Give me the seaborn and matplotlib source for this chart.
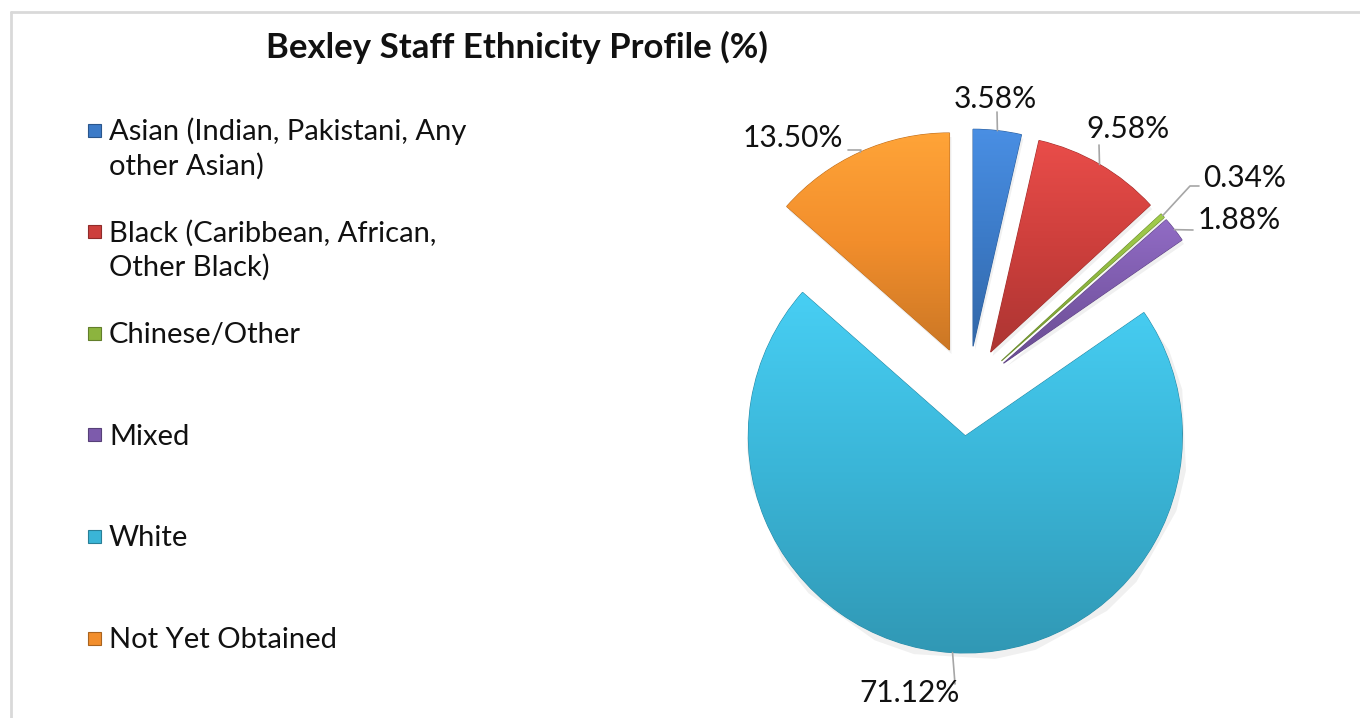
import numpy as np
import matplotlib.pyplot as plt
import matplotlib.colors as mcolors
from matplotlib.patches import Rectangle
import seaborn as sns

# data
groups = ["Asian (Indian, Pakistani, Any\nother Asian)",
          "Black (Caribbean, African,\nOther Black)",
          "Chinese/Other",
          "Mixed",
          "White",
          "Not Yet Obtained"]
shares = [3.58, 9.58, 0.34, 1.88, 71.12, 13.50]
colours = ["#3C7BC8", "#CD3F3C", "#8CB43E", "#7D5BAC", "#3AB5D7", "#F28E2C"]

title = "Bexley Staff Ethnicity Profile (%)"

W, H = 1360, 718

sns.set_theme(style="white")
plt.rcParams["font.family"] = ["Lato", "DejaVu Sans"]

fig = plt.figure(figsize=(13.6, 7.18), dpi=100)
ax = fig.add_axes([0, 0, 1, 1])


def py(y):
    # pixel row (from top) -> axis y
    return H - y


centre = (968, py(391))
radius = 217
pull = 45

wedges, _ = ax.pie(shares, colors=colours, startangle=90, counterclock=False,
                   radius=radius, center=centre, explode=[pull] * len(shares),
                   wedgeprops=dict(linewidth=0.8))

# soft vertical shading on every slice
for w, c in zip(wedges, colours):
    rgb = np.array(mcolors.to_rgb(c))
    light = np.clip(rgb * 1.1 + 0.03, 0, 1)
    dark = rgb * 0.84
    w.set_edgecolor(tuple(rgb * 0.78))
    ext = w.get_path().get_extents()
    cmap = mcolors.LinearSegmentedColormap.from_list("", [light, rgb, dark])
    grad = np.linspace(0, 1, 256).reshape(-1, 1)
    im = ax.imshow(grad, cmap=cmap, extent=[ext.x0, ext.x1, ext.y0, ext.y1],
                   origin="upper", aspect="auto", zorder=w.get_zorder() + 0.1)
    im.set_clip_path(w)
    # shadow
    sh = plt.Polygon(w.get_path().vertices + np.array([2, -4]), closed=True,
                     facecolor="#000000", alpha=0.06, edgecolor="none",
                     zorder=w.get_zorder() - 0.5)
    ax.add_patch(sh)

# data labels with leader lines: (text x, text y, ha, elbow points)
label_layout = [
    (995, 99, "center", [(997, 112)]),
    (1128, 129, "center", [(1099, 145)]),
    (1203, 178, "left", [(1190, 186), (1199, 186)]),
    (1198, 220, "left", [(1193, 230)]),
    (910, 693, "center", [(955, 684)]),
    (843, 138, "right", [(861, 150), (848, 150)]),
]

for w, v, (tx, ty, ha, pts) in zip(wedges, shares, label_layout):
    mid = np.deg2rad((w.theta1 + w.theta2) / 2)
    ox = w.center[0] + radius * np.cos(mid)
    oy = w.center[1] + radius * np.sin(mid)
    xs = [ox] + [p[0] for p in pts]
    ys = [oy] + [py(p[1]) for p in pts]
    ax.plot(xs, ys, color="#A6A6A6", lw=1.2, zorder=5)
    ax.text(tx, py(ty), f"{v:.2f}%", ha=ha, va="center", fontsize=21.5,
            color="#111111", zorder=6)

# legend on the left, marker level with the first line of each entry
for i, (name, c) in enumerate(zip(groups, colours)):
    yc = 130 + 101.6 * i
    rgb = np.array(mcolors.to_rgb(c))
    ax.add_patch(Rectangle((88, py(yc) - 6.5), 13, 13, facecolor=c,
                           edgecolor=tuple(rgb * 0.7), lw=0.8))
    for j, line in enumerate(name.split("\n")):
        ax.text(109, py(yc + 10 + 34.5 * j), line, ha="left", va="baseline",
                fontsize=21, color="#111111")

ax.text(517, py(47), title, ha="center", va="center", fontsize=25,
        fontweight="bold", color="#111111")

# chart frame
ax.plot([10.5, 10.5], [-2, py(11.5)], color="#D9D9D9", lw=2)
ax.plot([10.5, W + 2], [py(11.5), py(11.5)], color="#D9D9D9", lw=2)

ax.set_xlim(0, W)
ax.set_ylim(0, H)
ax.set_aspect("equal")
ax.axis("off")

fig.savefig("out.png", dpi=100, facecolor="white")
